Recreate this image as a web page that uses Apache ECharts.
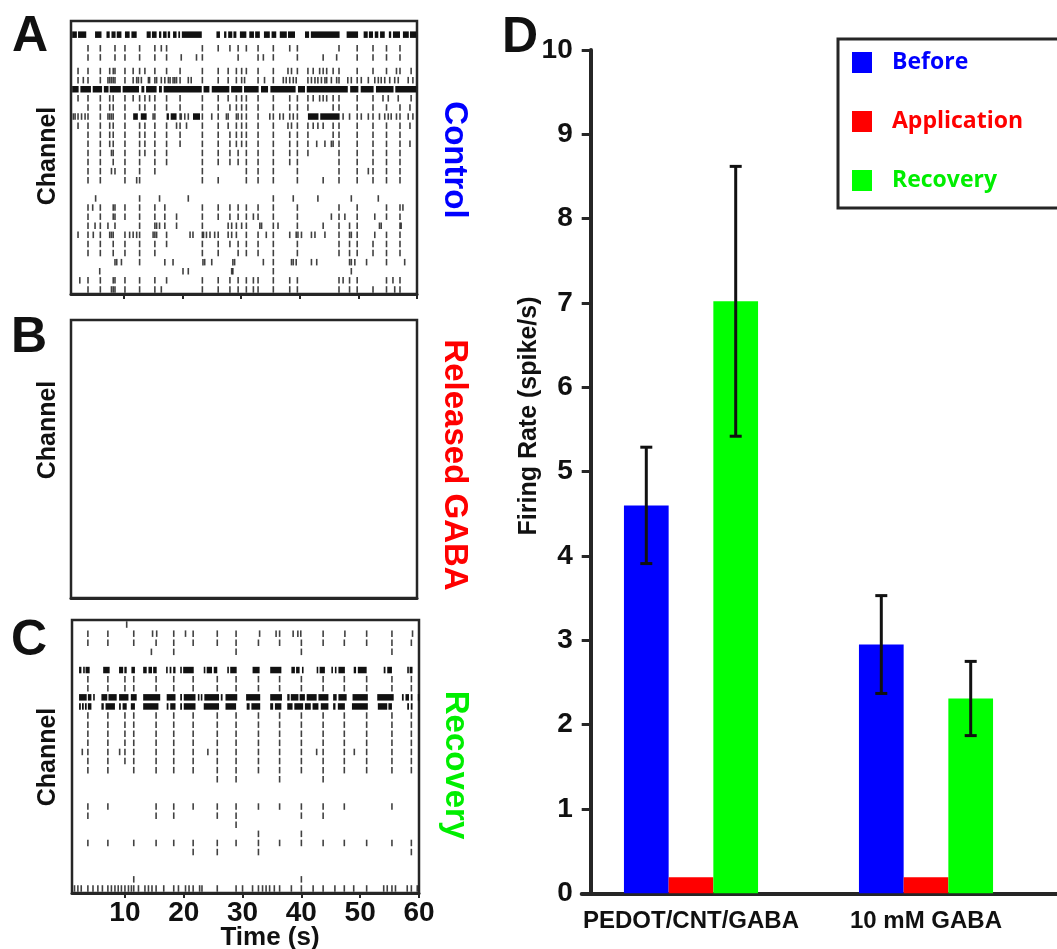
<!DOCTYPE html>
<html>
<head>
<meta charset="utf-8">
<script src="https://cdn.jsdelivr.net/npm/echarts/dist/echarts.min.js"></script>
<style>
  html, body { margin: 0; padding: 0; background: #ffffff; }
  #chart { width: 1057px; height: 949px; }
</style>
</head>
<body>
<div id="chart"></div>
<script>
// ---------- Raster data: spike times (s) per channel ----------
// Control recording (panel A): [channel, [spike times]]
const controlRows = [
  [6,  [3.9, 6.0, 8.5, 10.2, 12.7, 15.3, 16.4, 17.3, 23.4, 26.1, 28.1, 29.5, 30.9, 32.9, 35.5, 38.3, 39.6, 46.7, 49.8, 52.5, 54.8, 57.1]],
  [8,  [3.9, 6.0, 8.5, 10.2, 12.7, 15.3, 17.3, 19.8, 22.4, 23.4, 29.5, 32.9, 33.8, 35.5, 39.6, 44.0, 46.3, 49.8, 52.5, 54.8, 57.1]],
  [11, [2.2, 3.9, 6.0, 7.6, 8.2, 8.5, 10.2, 11.6, 12.7, 13.6, 15.3, 17.3, 19.6, 23.4, 26.1, 27.8, 29.2, 30.1, 30.9, 32.9, 35.5, 38.0, 38.6, 39.6, 41.4, 42.3, 43.4, 44.0, 44.6, 45.7, 46.7, 49.8, 52.5, 54.8, 56.5, 57.1, 59.0]],
  [13, [2.2, 3.1, 3.9, 6.0, 7.3, 7.6, 7.9, 8.2, 8.5, 10.2, 11.6, 12.2, 12.5, 13.0, 14.2, 14.4, 15.3, 15.6, 16.4, 17.0, 17.6, 17.9, 18.4, 18.7, 19.0, 19.6, 21.0, 21.5, 23.4, 26.1, 27.8, 29.2, 30.1, 30.6, 32.9, 34.0, 35.5, 37.2, 37.7, 38.3, 38.9, 39.4, 41.4, 42.0, 42.6, 43.1, 43.7, 44.3, 44.6, 45.4, 46.3, 46.7, 48.2, 48.8, 49.8, 50.5, 51.7, 52.8, 53.4, 53.9, 54.5, 55.35, 56.2, 56.8, 58.5, 59.3]],
  [17, [2.2, 3.9, 6.0, 7.6, 8.2, 10.2, 11.6, 12.7, 13.6, 14.4, 15.3, 17.3, 19.6, 23.4, 26.1, 27.8, 29.2, 30.1, 30.9, 32.9, 35.5, 38.3, 39.6, 41.4, 42.3, 43.4, 44.0, 44.6, 45.7, 46.7, 49.8, 52.5, 54.2, 55.1, 56.8, 59.0]],
  [19, [3.9, 6.0, 7.6, 8.2, 10.2, 12.7, 13.6, 15.3, 17.3, 19.6, 23.4, 26.1, 28.1, 29.2, 30.1, 30.9, 32.9, 35.5, 38.3, 39.6, 41.4, 45.7, 46.7, 49.8, 52.5, 54.8, 57.1, 58.8]],
  [21, [1.4, 1.7, 2.2, 2.8, 3.4, 3.9, 6.0, 7.3, 7.6, 7.9, 8.2, 10.2, 15.0, 15.3, 19.6, 19.8, 20.4, 21.0, 23.4, 25.0, 26.1, 27.5, 27.8, 29.2, 29.5, 30.1, 30.9, 32.9, 34.9, 35.5, 36.6, 37.2, 38.3, 38.9, 39.6, 47.4, 48.5, 49.8, 50.5, 51.7, 52.5, 53.6, 54.5, 55.1, 55.6, 56.5, 57.1, 58.5, 59.3]],
  [23, [2.2, 3.9, 6.0, 7.6, 8.2, 10.2, 12.7, 13.6, 15.3, 17.3, 19.0, 19.6, 20.7, 23.4, 26.1, 27.8, 29.2, 30.1, 30.9, 32.9, 35.5, 38.0, 38.6, 39.6, 41.4, 42.3, 43.1, 44.0, 45.7, 46.7, 49.8, 52.5, 54.8, 57.1, 58.8]],
  [25, [3.9, 6.0, 7.6, 8.2, 10.2, 12.7, 13.6, 15.3, 17.3, 19.6, 23.4, 26.1, 28.1, 29.2, 30.1, 30.9, 32.9, 35.5, 38.3, 39.6, 41.4, 45.7, 46.7, 49.8, 52.5, 54.8, 57.1]],
  [27, [3.9, 6.0, 7.6, 8.2, 10.2, 12.7, 13.6, 15.3, 17.3, 19.6, 23.4, 26.1, 28.1, 29.2, 30.1, 30.9, 32.9, 35.5, 38.3, 39.6, 41.4, 42.9, 44.3, 45.4, 45.7, 46.7, 49.8, 52.5, 54.8, 57.1, 58.8]],
  [29, [3.9, 6.0, 7.9, 8.2, 10.2, 12.7, 13.6, 15.3, 17.3, 23.4, 26.1, 28.1, 29.5, 30.9, 32.9, 35.5, 38.3, 39.6, 41.4, 46.7, 49.8, 52.5, 54.8, 57.1]],
  [31, [3.9, 6.0, 8.2, 10.2, 12.7, 15.3, 17.3, 23.4, 26.1, 28.1, 29.5, 30.9, 32.9, 35.5, 38.3, 39.6, 46.7, 49.8, 52.5, 54.8, 57.1]],
  [33, [3.9, 6.0, 7.9, 8.5, 10.2, 12.7, 15.3, 23.4, 30.9, 32.9, 35.5, 39.6, 46.7, 49.8, 51.7, 52.5, 54.8, 57.1]],
  [35, [3.9, 6.0, 10.2, 12.2, 12.7, 23.4, 26.1, 30.9, 32.9, 35.5, 39.6, 44.0, 46.7, 49.8, 52.5, 54.8, 57.1]],
  [39, [5.2, 12.7, 16.1, 21.0, 35.5, 38.9, 43.1, 48.8, 53.4]],
  [41, [3.9, 4.7, 6.0, 8.2, 8.5, 10.2, 12.7, 15.3, 17.0, 23.4, 26.1, 28.1, 29.5, 30.9, 32.9, 35.5, 39.6, 46.7, 49.8, 54.8, 57.1, 57.6]],
  [43, [3.9, 6.0, 8.2, 8.5, 10.2, 12.7, 15.3, 17.0, 19.0, 23.4, 26.1, 28.1, 29.5, 30.9, 32.1, 32.9, 35.5, 39.6, 45.4, 46.7, 47.7, 49.8, 52.8, 54.8, 57.1]],
  [45, [3.9, 5.1, 6.0, 7.3, 8.5, 12.7, 15.3, 15.6, 16.1, 17.0, 19.0, 23.4, 27.8, 28.4, 29.2, 30.1, 30.9, 33.2, 33.5, 35.5, 36.3, 39.6, 44.0, 46.7, 48.5, 49.8, 53.6, 53.9, 57.1, 57.3]],
  [47, [2.2, 3.9, 4.8, 6.0, 7.6, 7.9, 8.2, 10.2, 11.0, 11.6, 12.2, 12.7, 15.0, 15.3, 15.6, 17.3, 21.3, 21.8, 23.4, 23.6, 24.1, 24.7, 25.5, 26.1, 27.8, 28.4, 29.2, 30.9, 32.9, 34.3, 35.5, 38.3, 39.4, 39.7, 40.3, 42.0, 42.6, 44.3, 46.7, 48.5, 48.8, 49.8, 52.8, 54.8, 57.1]],
  [49, [3.9, 6.0, 8.2, 10.2, 12.7, 15.3, 17.3, 23.4, 26.1, 28.1, 29.5, 30.9, 32.9, 35.5, 39.6, 46.7, 48.5, 49.8, 52.5, 54.8, 57.1]],
  [51, [3.9, 6.0, 8.2, 10.2, 12.7, 15.3, 23.4, 26.1, 29.5, 30.9, 32.9, 35.5, 39.6, 46.7, 48.5, 49.8, 52.5, 54.8, 57.1]],
  [53, [8.5, 8.8, 9.6, 12.7, 17.0, 18.4, 23.5, 23.8, 25.0, 28.6, 28.9, 33.8, 35.5, 38.6, 38.9, 39.4, 42.0, 42.9, 48.5, 48.8, 49.4, 51.4, 54.8, 57.9]],
  [55, [5.9, 20.1, 21.0, 28.4, 28.6, 35.5, 48.8]],
  [57, [2.5, 3.9, 6.0, 8.2, 8.5, 10.2, 12.7, 15.3, 17.3, 23.4, 26.1, 28.1, 29.5, 30.9, 32.1, 32.9, 35.5, 38.3, 39.6, 46.7, 47.4, 48.5, 49.8, 54.8, 55.9, 57.1]],
  [59, [3.9, 6.0, 7.9, 8.2, 8.5, 10.2, 12.7, 15.3, 16.4, 23.4, 26.1, 28.1, 29.5, 30.9, 32.1, 32.9, 35.5, 38.3, 39.6, 46.7, 48.5, 49.8, 52.5, 54.8, 56.2, 57.1]]
];

// Control recording: dense bursts as [channel, start, end]
const controlBursts = [
  [3, 1.2, 2.0], [3, 2.2, 3.6], [3, 5.1, 6.2], [3, 7.05, 7.6], [3, 7.9, 8.6], [3, 8.8, 9.6],
  [3, 10.2, 11.0], [3, 11.3, 12.2], [3, 13.9, 14.6], [3, 14.8, 15.6], [3, 16.0, 16.4], [3, 16.7, 17.3],
  [3, 17.5, 17.9], [3, 18.4, 19.0], [3, 19.3, 19.6], [3, 19.9, 23.3], [3, 25.8, 26.4], [3, 27.1, 27.5],
  [3, 27.8, 28.5], [3, 28.7, 29.2], [3, 29.8, 30.9], [3, 31.4, 32.2], [3, 32.4, 33.2], [3, 33.9, 34.9],
  [3, 35.2, 36.0], [3, 36.6, 37.8], [3, 38.0, 39.2], [3, 40.9, 41.6], [3, 41.9, 46.8], [3, 48.0, 49.95],
  [3, 50.9, 51.6], [3, 51.8, 52.5], [3, 52.8, 53.4], [3, 53.7, 54.5], [3, 55.2, 55.6], [3, 55.9, 57.1],
  [3, 57.6, 58.6], [3, 58.8, 59.9],
  [15, 1.2, 2.3], [15, 2.6, 4.4], [15, 4.7, 6.3], [15, 6.6, 7.4], [15, 7.6, 9.5], [15, 9.8, 12.6],
  [15, 13.0, 13.5], [15, 13.8, 15.6], [15, 16.0, 16.5], [15, 16.8, 23.3], [15, 23.6, 24.6], [15, 25.0, 28.0],
  [15, 28.3, 30.2], [15, 30.5, 33.0], [15, 33.4, 34.6], [15, 35.0, 39.3], [15, 39.7, 40.9], [15, 41.2, 48.2],
  [15, 48.6, 50.0], [15, 50.4, 52.6], [15, 53.0, 56.0], [15, 56.3, 59.9],
  [21, 11.6, 12.4], [21, 12.9, 13.9], [21, 17.3, 17.7], [21, 18.0, 19.0], [21, 21.8, 23.0],
  [21, 41.4, 43.2], [21, 43.5, 46.8]
];

// Recovery recording (panel C): [channel, [spike times]]
const recoveryRows = [
  [1,  [10.3]],
  [3,  [3.7, 7.1, 11.5, 14.7, 15.4, 18.3, 20.3, 21.6, 25.7, 28.9, 32.9, 35.7, 36.3, 38.6, 39.4, 39.9, 43.7, 47.4, 51.1, 55.4, 58.9]],
  [5,  [3.7, 7.1, 11.5, 15.3, 18.3, 21.6, 25.7, 28.9, 32.7, 36.3, 40.0, 43.7, 47.3, 51.1, 55.4, 58.7]],
  [7,  [14.5, 18.3, 28.9, 40.0, 55.4]],
  [13, [3.7, 7.1, 10.0, 11.5, 15.3, 18.3, 21.6, 25.7, 28.9, 32.7, 36.3, 40.0, 43.7, 47.3, 51.1, 55.4, 58.7]],
  [15, [3.7, 7.1, 10.0, 11.5, 15.3, 18.3, 21.6, 25.7, 28.9, 32.7, 36.3, 40.0, 43.7, 47.3, 51.1, 55.4, 58.7]],
  [21, [3.7, 7.1, 10.0, 11.5, 15.3, 18.3, 21.6, 25.7, 28.9, 32.7, 36.3, 40.0, 43.7, 47.3, 51.1, 55.4, 58.7]],
  [23, [3.7, 7.1, 10.0, 11.5, 15.3, 18.3, 21.6, 25.7, 28.9, 32.7, 36.3, 40.0, 43.7, 47.3, 51.1, 55.4, 58.7]],
  [25, [3.7, 7.1, 10.0, 11.5, 15.3, 18.3, 21.6, 25.7, 28.9, 32.7, 36.3, 40.0, 43.7, 47.3, 51.1, 55.4, 58.7]],
  [27, [3.7, 7.1, 10.0, 11.5, 15.3, 18.3, 21.6, 25.7, 28.9, 32.7, 36.3, 40.0, 43.7, 47.3, 51.1, 55.4, 58.7]],
  [29, [2.75, 3.7, 7.1, 9.1, 10.0, 11.5, 15.3, 18.3, 21.6, 24.1, 25.7, 28.9, 32.7, 36.3, 40.0, 42.6, 43.7, 47.3, 49.0, 51.1, 55.4, 58.7]],
  [31, [3.7, 7.1, 10.0, 11.5, 15.3, 18.3, 21.6, 25.7, 28.9, 32.7, 36.3, 40.0, 43.7, 47.3, 51.1, 55.4, 58.7]],
  [33, [3.7, 7.1, 11.5, 15.3, 18.3, 21.6, 25.7, 28.9, 32.7, 36.3, 40.0, 43.7, 47.3, 51.1, 55.4, 58.7]],
  [35, [25.7, 28.9, 36.3, 43.7]],
  [41, [3.7, 7.1, 15.3, 18.3, 21.6, 25.7, 28.9, 32.7, 36.3, 40.0, 43.7, 47.3, 55.4]],
  [43, [3.7, 15.3, 18.3, 25.7, 28.9, 40.0, 43.7]],
  [45, [28.9]],
  [47, [32.7, 40.0]],
  [49, [3.7, 7.1, 11.5, 15.3, 18.3, 21.6, 25.7, 28.9, 32.7, 36.3, 40.0, 43.7, 47.3, 51.1, 55.4, 58.7]],
  [51, [21.6, 25.7, 32.7, 58.7]],
  [57, [11.5, 40.0]],
  [59, [1.43, 2.0, 2.57, 3.7, 4.57, 5.4, 6.17, 7.1, 7.7, 8.3, 8.86, 9.4, 10.0, 10.6, 11.1, 11.5, 12.3, 13.4, 14.0, 14.6, 15.3, 16.6, 18.3, 19.1, 20.3, 20.9, 21.6, 22.7, 23.1, 25.7, 28.9, 30.0, 31.7, 32.7, 33.4, 34.0, 34.6, 35.4, 36.3, 38.3, 40.0, 42.0, 43.7, 45.7, 47.3, 48.9, 51.1, 54.0, 54.6, 55.4, 56.0, 58.0, 58.7, 59.7]]
];

// Recovery recording: dense bursts as [channel, start, end]
const recoveryBursts = [
  [11, 2.2, 2.6], [11, 2.9, 3.0], [11, 3.3, 4.0], [11, 6.3, 7.4], [11, 9.0, 9.7], [11, 9.9, 10.3],
  [11, 11.1, 11.7], [11, 13.1, 13.7], [11, 14.0, 14.6], [11, 14.8, 15.4], [11, 17.0, 17.2], [11, 17.6, 17.9],
  [11, 18.2, 18.6], [11, 19.4, 19.6], [11, 19.9, 21.7], [11, 23.4, 23.6], [11, 23.9, 24.8], [11, 25.1, 25.7],
  [11, 27.4, 27.6], [11, 27.9, 29.0], [11, 31.7, 32.9], [11, 34.7, 36.6], [11, 38.3, 38.9], [11, 39.1, 39.7],
  [11, 40.1, 40.3], [11, 42.6, 42.8], [11, 43.1, 44.0], [11, 45.1, 45.3], [11, 45.7, 45.9], [11, 46.3, 47.4],
  [11, 48.9, 49.3], [11, 49.6, 51.1], [11, 54.0, 54.3], [11, 54.6, 55.4], [11, 58.0, 58.2], [11, 58.4, 58.9],
  [17, 2.2, 3.5], [17, 3.7, 4.3], [17, 4.6, 4.7], [17, 6.0, 7.0], [17, 7.2, 8.6], [17, 9.0, 10.6],
  [17, 11.0, 12.0], [17, 13.1, 16.0], [17, 17.1, 18.6], [17, 19.4, 19.7], [17, 20.0, 22.0], [17, 22.4, 22.6],
  [17, 22.9, 23.1], [17, 23.5, 26.0], [17, 26.3, 26.6], [17, 27.1, 29.1], [17, 30.6, 33.0], [17, 34.7, 36.7],
  [17, 37.6, 38.0], [17, 38.2, 39.5], [17, 39.7, 40.6], [17, 40.9, 42.6], [17, 42.9, 44.6], [17, 45.4, 46.0],
  [17, 46.3, 47.7], [17, 48.7, 51.3], [17, 52.9, 55.7], [17, 57.1, 57.4], [17, 57.7, 58.3], [17, 58.6, 58.9],
  [17, 59.8, 60.0],
  [19, 2.2, 2.5], [19, 2.7, 3.0], [19, 3.2, 3.5], [19, 3.7, 4.3], [19, 6.0, 6.4], [19, 6.7, 8.3],
  [19, 9.0, 9.3], [19, 9.6, 10.3], [19, 11.0, 11.7], [19, 13.1, 15.7], [19, 17.1, 17.4], [19, 17.7, 18.6],
  [19, 19.4, 19.7], [19, 20.0, 22.0], [19, 23.4, 26.0], [19, 27.1, 28.9], [19, 30.7, 31.2], [19, 31.5, 33.0],
  [19, 34.7, 35.2], [19, 35.5, 36.6], [19, 37.6, 38.5], [19, 38.8, 40.3], [19, 40.6, 41.6], [19, 41.9, 42.9],
  [19, 43.3, 44.6], [19, 45.4, 45.8], [19, 46.2, 47.4], [19, 48.6, 51.3], [19, 53.0, 54.6], [19, 54.8, 55.4],
  [19, 58.0, 58.3], [19, 58.6, 58.9]
];

// Released GABA recording (panel B): no spikes
const gabaRows = [];
const gabaBursts = [];

const timeTicks = [10, 20, 30, 40, 50, 60];

// ---------- Bar chart data (panel D) ----------
const categories = ['PEDOT/CNT/GABA', '10 mM GABA'];
const before = [4.6, 2.95];
const application = [0.19, 0.19];
const recovery = [7.02, 2.31];
const beforeErr = [0.69, 0.58];
const recoveryErr = [1.6, 0.44];
const rateTicks = { min: 0, max: 10, interval: 1 };

// ---------- styles ----------
const INK = '#111111';
const FRAME = '#262626';
const SANS = '"Liberation Sans", Arial, sans-serif';
const BAR_W = 44.7;
const SPIKE_H = 6.5;

function spikePoints(rows) {
  const pts = [];
  rows.forEach(([ch, times]) => times.forEach(t => pts.push([t, ch])));
  return pts;
}

function rasterAxes(gridIndex, showLabels, showTicks) {
  return {
    x: {
      type: 'value', gridIndex, min: 1, max: 60, position: 'bottom',
      axisLine: { show: true, onZero: false, lineStyle: { color: FRAME, width: 3 } },
      axisTick: { show: showTicks, customValues: timeTicks, length: 5, lineStyle: { color: FRAME, width: 2 } },
      axisLabel: {
        show: showLabels, customValues: timeTicks, margin: 6,
        fontSize: 28, fontWeight: 'bold', fontFamily: SANS, color: INK
      },
      splitLine: { show: false }
    },
    y: {
      type: 'value', gridIndex, min: 0, max: 60, inverse: true, show: false
    }
  };
}

function rasterSeries(axisIndex, rows, bursts) {
  return [
    {
      type: 'scatter', xAxisIndex: axisIndex, yAxisIndex: axisIndex,
      data: spikePoints(rows), symbol: 'rect', symbolSize: [1.6, SPIKE_H],
      itemStyle: { color: INK }, silent: true, animation: false
    },
    {
      type: 'custom', xAxisIndex: axisIndex, yAxisIndex: axisIndex,
      data: bursts, encode: { x: [1, 2], y: 0 }, silent: true, animation: false,
      renderItem(params, api) {
        const a = api.coord([api.value(1), api.value(0)]);
        const b = api.coord([api.value(2), api.value(0)]);
        return {
          type: 'rect',
          shape: { x: a[0], y: a[1] - SPIKE_H / 2, width: Math.max(b[0] - a[0], 1.6), height: SPIKE_H },
          style: { fill: INK }
        };
      }
    }
  ];
}

const axA = rasterAxes(0, false, true);
const axB = rasterAxes(1, false, false);
const axC = rasterAxes(2, true, true);

const errData = [];
before.forEach((v, i) => errData.push([i, v, beforeErr[i], 0]));
recovery.forEach((v, i) => errData.push([i, v, recoveryErr[i], 2]));

function label(text, x, y, size, color, rotation, family) {
  return {
    type: 'text', x, y, rotation: rotation || 0, silent: true,
    style: {
      text, fill: color, align: 'center', verticalAlign: 'middle',
      font: 'bold ' + size + 'px ' + (family || SANS)
    }
  };
}

const chart = echarts.init(document.getElementById('chart'), null, { renderer: 'canvas' });

chart.setOption({
  animation: false,
  backgroundColor: '#ffffff',
  grid: [
    { left: 71, top: 21, width: 346, height: 273, show: true, borderColor: FRAME, borderWidth: 2.5 },
    { left: 71, top: 320, width: 346, height: 278, show: true, borderColor: FRAME, borderWidth: 2.5 },
    { left: 72, top: 620, width: 347, height: 273, show: true, borderColor: FRAME, borderWidth: 2.5 },
    { left: 573.5, top: 50, width: 470, bottom: 55.7 },
    { left: 581.7, top: 50, right: -20, bottom: 55.7 }
  ],
  xAxis: [
    axA.x, axB.x, axC.x,
    {
      type: 'category', gridIndex: 3, data: categories,
      axisLine: { show: false }, axisTick: { show: false },
      axisLabel: { interval: 0, margin: 16, fontSize: 24, fontWeight: 'bold', fontFamily: SANS, color: INK }
    },
    {
      type: 'value', gridIndex: 4, min: 0, max: 1,
      axisLine: { show: true, onZero: false, lineStyle: { color: FRAME, width: 4 } },
      axisTick: { show: false }, axisLabel: { show: false }, splitLine: { show: false }
    }
  ],
  yAxis: [
    axA.y, axB.y, axC.y,
    {
      type: 'value', gridIndex: 3, min: rateTicks.min, max: rateTicks.max, interval: rateTicks.interval,
      offset: -17.2,
      axisLine: { show: true, lineStyle: { color: FRAME, width: 4 } },
      axisTick: { show: true, length: 9, lineStyle: { color: FRAME, width: 3 } },
      axisLabel: { margin: 18, fontSize: 28, fontWeight: 'bold', fontFamily: SANS, color: INK },
      splitLine: { show: false }
    },
    { type: 'value', gridIndex: 4, min: 0, max: 1, show: false }
  ],
  legend: {
    left: 838, top: 39, orient: 'vertical', selectedMode: false,
    itemWidth: 20, itemHeight: 21, itemGap: 36, icon: 'rect',
    padding: [12, 60, 16, 14],
    borderColor: FRAME, borderWidth: 3,
    textStyle: { fontSize: 23, fontWeight: 'bold', fontFamily: '"Open Sans", sans-serif', padding: [0, 0, 0, 15] },
    data: [
      { name: 'Before', textStyle: { color: '#0000ff' } },
      { name: 'Application', textStyle: { color: '#ff0000' } },
      { name: 'Recovery', textStyle: { color: '#00ee00' } }
    ]
  },
  series: [
    ...rasterSeries(0, controlRows, controlBursts),
    ...rasterSeries(1, gabaRows, gabaBursts),
    ...rasterSeries(2, recoveryRows, recoveryBursts),
    {
      name: 'Before', type: 'bar', xAxisIndex: 3, yAxisIndex: 3, data: before,
      barWidth: BAR_W, barGap: '0%', itemStyle: { color: '#0000ff' }, silent: true
    },
    {
      name: 'Application', type: 'bar', xAxisIndex: 3, yAxisIndex: 3, data: application,
      barWidth: BAR_W, barGap: '0%', itemStyle: { color: '#ff0000' }, silent: true
    },
    {
      name: 'Recovery', type: 'bar', xAxisIndex: 3, yAxisIndex: 3, data: recovery,
      barWidth: BAR_W, barGap: '0%', itemStyle: { color: '#00ff00' }, silent: true
    },
    {
      type: 'custom', xAxisIndex: 3, yAxisIndex: 3, data: errData, z: 5,
      encode: { x: 0, y: 1 }, silent: true,
      renderItem(params, api) {
        const cat = api.value(0), mean = api.value(1), err = api.value(2), slot = api.value(3);
        const hi = api.coord([cat, mean + err]);
        const lo = api.coord([cat, mean - err]);
        const x = hi[0] + (slot - 1) * BAR_W;
        const cap = 6;
        const st = { stroke: INK, lineWidth: 3 };
        return {
          type: 'group',
          children: [
            { type: 'line', shape: { x1: x, y1: hi[1], x2: x, y2: lo[1] }, style: st },
            { type: 'line', shape: { x1: x - cap, y1: hi[1], x2: x + cap, y2: hi[1] }, style: st },
            { type: 'line', shape: { x1: x - cap, y1: lo[1], x2: x + cap, y2: lo[1] }, style: st }
          ]
        };
      }
    }
  ],
  graphic: [
    label('A', 30, 37, 50, INK),
    label('B', 29, 338, 50, INK),
    label('C', 29, 641, 50, INK),
    label('D', 520, 38, 50, INK),
    label('Channel', 48, 156, 25, INK, Math.PI / 2),
    label('Channel', 48, 430, 25, INK, Math.PI / 2),
    label('Channel', 48, 757, 25, INK, Math.PI / 2),
    label('Control', 454, 160, 33, '#0000ff', -Math.PI / 2),
    label('Released GABA', 454, 465, 33, '#ff0000', -Math.PI / 2),
    label('Recovery', 455, 765, 33, '#00ee00', -Math.PI / 2),
    label('Time (s)', 270, 938, 26, INK),
    label('Firing Rate (spike/s)', 529, 416, 25, INK, Math.PI / 2)
  ]
});
</script>
</body>
</html>
